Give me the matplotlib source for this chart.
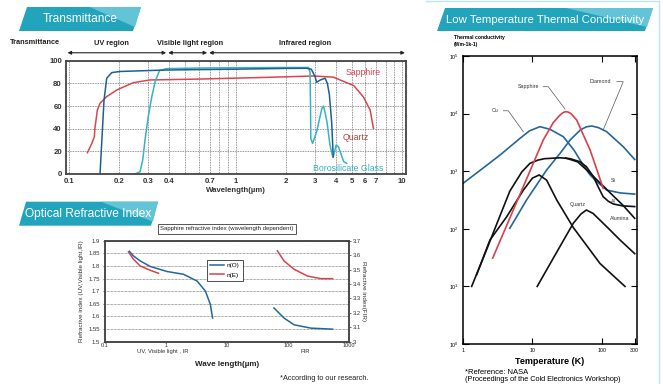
import matplotlib
matplotlib.use("Agg")
import matplotlib.pyplot as plt
from matplotlib.patches import Polygon
from matplotlib.lines import Line2D
from matplotlib.ticker import FixedLocator, NullLocator, NullFormatter, LogFormatterMathtext
import matplotlib.transforms as mtrans

plt.rcParams['font.family'] = ['Liberation Sans', 'DejaVu Sans']

# ---------------- transmittance data (wavelength um, %)
sapphire_wl = [0.129, 0.137, 0.142, 0.143, 0.148, 0.1535, 0.168, 0.193, 0.243, 0.306, 0.61, 1.54, 2.94, 3.86, 5.13, 5.86, 6.43, 6.73]
sapphire_t = [18.8, 27, 33, 40.3, 56.5, 62.4, 68.2, 74.1, 80.6, 83, 83.8, 85.3, 86.5, 85.5, 78, 68, 56.5, 40.3]

quartz_wl = [0.1535, 0.1622, 0.1684, 0.1805, 0.2024, 0.385, 0.97, 2.0, 2.68, 2.85, 3.0, 3.07, 3.23, 3.45, 3.56, 3.66, 3.78, 3.86]
quartz_t = [0, 65, 84.5, 89.5, 90.5, 91.8, 92.5, 93.2, 93.3, 92.5, 86, 81, 83, 84.5, 80, 70, 45, 15]

boro_wl = [0.249, 0.267, 0.277, 0.286, 0.299, 0.314, 0.329, 0.349, 0.385, 0.6, 1.0, 2.0, 2.74, 2.80, 2.82, 2.83, 2.90, 3.07, 3.30, 3.38, 3.54, 3.69, 3.81, 3.86, 4.02, 4.15, 4.46, 4.65]
boro_t = [0, 2, 12.4, 30, 50.6, 68.2, 81.5, 91.2, 93, 93.5, 93.8, 94, 94, 90, 61, 31.5, 27, 37.3, 58, 60, 46, 25.6, 16.8, 15, 25.6, 24, 10.9, 9.4]

wl_ticks = [0.1, 0.2, 0.3, 0.4, 0.7, 1, 2, 3, 4, 5, 6, 7, 10]
wl_labels = ['0.1', '0.2', '0.3', '0.4', '0.7', '1', '2', '3', '4', '5', '6', '7', '10']
regions = [('UV region', 0.098, 0.383), ('Visible light region', 0.394, 0.675), ('Infrared region', 0.694, 10.4)]

# ---------------- refractive index data (wavelength um)
no_uv_wl = [0.251, 0.292, 0.377, 0.551, 1.04, 1.94, 3.24, 4.44, 5.34, 5.8]
no_uv_n = [1.858, 1.84, 1.82, 1.798, 1.778, 1.767, 1.74, 1.70, 1.647, 1.594]
ne_uv_wl = [0.242, 0.292, 0.377, 0.551, 0.753]
ne_uv_n = [1.856, 1.827, 1.80, 1.783, 1.771]
no_fir_wl = [58.9, 86, 126, 237, 537]
no_fir_n = [3.234, 3.164, 3.117, 3.094, 3.087]
ne_fir_wl = [67, 86, 126, 209, 346, 537]
ne_fir_n = [3.63, 3.56, 3.502, 3.455, 3.437, 3.437]

# ---------------- thermal conductivity data (K, W/mK)
cu_T = [1, 2, 3.4, 6.6, 9, 12.8, 17.9, 27.9, 40, 54, 68, 85, 118, 184, 300]
cu_k = [620, 1170, 1910, 3720, 5000, 5930, 5340, 3970, 2300, 1280, 860, 660, 470, 420, 400]
diamond_T = [4.7, 8.2, 16, 25, 35, 49, 60, 72, 90, 118, 205, 300]
diamond_k = [102, 316, 1050, 2040, 3480, 5190, 5900, 6090, 5700, 4850, 2660, 1600]
sapph_T = [2.66, 6, 14.3, 20, 25, 28, 30.5, 33, 36, 43.5, 55, 68, 85, 105]
sapph_k = [31, 304, 3480, 7000, 9460, 10500, 10800, 10600, 10000, 7740, 4120, 2330, 1070, 505]
al_T = [1.32, 2, 3, 4.7, 7, 9.2, 12, 15, 25, 35, 48.6, 60, 76, 90, 105, 125, 147, 200, 300]
al_k = [10, 34, 116, 450, 970, 1370, 1560, 1650, 1710, 1650, 1460, 1200, 803, 520, 361, 300, 270, 250, 243]
si_T = [30, 45, 60.7, 100, 150, 200, 300]
si_k = [1700, 1450, 1050, 588, 364, 261, 152]
alumina_T = [1.56, 2.43, 4.24, 7.4, 10, 12.5, 16, 22.4, 38.9, 67.6, 94.5, 150, 217]
alumina_k = [16, 64, 162, 472, 760, 860, 700, 316, 105, 43, 25, 15, 10]
quartz2_T = [11.7, 20, 38.9, 50, 60, 75, 118, 184, 300]
quartz2_k = [10, 31, 125, 180, 212, 185, 109, 64, 37]

W, H = 663, 384
fig = plt.figure(figsize=(6.63, 3.84), dpi=100)


def box(l, t, r, b):
    return [l / W, 1 - b / H, (r - l) / W, (b - t) / H]


def fp(x, y):
    return (x / W, 1 - y / H)


def banner(x0, x1, top, bot, slant, text, tx, ty, fs):
    pts = [fp(x0, bot), fp(x0 + slant, top), fp(x1 + slant, top), fp(x1, bot)]
    fig.add_artist(Polygon(pts, closed=True, transform=fig.transFigure, fc='#22a4bd', ec='none'))
    lx = x0 + 0.62 * (x1 - x0)
    tri = [fp(lx, top), fp(x1 + slant, top), fp(x1 + 2, bot - 4)]
    fig.add_artist(Polygon(tri, closed=True, transform=fig.transFigure, fc='#62c4d6', ec='none'))
    fig.text(*fp(tx, ty), text, color='white', fontsize=fs, ha='center', va='center')


banner(19, 133, 7, 31, 8, 'Transmittance', 80, 19.5, 8.6)
banner(19, 151, 201.7, 225.7, 7, 'Optical Refractive Index', 88, 214, 8.6)
banner(437, 645, 8, 31, 8, 'Low Temperature Thermal Conductivity', 545, 20, 8.2)

fig.add_artist(Line2D([426 / W, 659 / W], [1 - 1 / H, 1 - 1 / H], transform=fig.transFigure, color='#bfe5ee', lw=1))
fig.add_artist(Line2D([659 / W, 659 / W], [1 - 1 / H, 0], transform=fig.transFigure, color='#bfe5ee', lw=1))

# ================= Transmittance
ax1 = fig.add_axes(box(66, 60.7, 405.6, 174))
ax1.set_xscale('log')
ax1.set_xlim(0.0959, 10.5)
ax1.set_ylim(0, 100)
ax1.plot(sapphire_wl, sapphire_t, color='#d9464f', lw=1.1)
ax1.plot(boro_wl, boro_t, color='#35b3c2', lw=1.1)
ax1.plot(quartz_wl, quartz_t, color='#1f5e91', lw=1.1)
ax1.xaxis.set_major_locator(FixedLocator(wl_ticks))
ax1.xaxis.set_minor_locator(FixedLocator([0.5, 0.6, 0.8, 0.9, 8, 9]))
ax1.set_xticklabels(wl_labels)
ax1.xaxis.set_minor_formatter(NullFormatter())
ax1.set_yticks([0, 20, 40, 60, 80, 100])
ax1.grid(which='both', color='#555555', ls=(0, (1.2, 1.2)), lw=0.5)
ax1.tick_params(which='both', length=0, labelsize=5.6, colors='#333333', pad=3)
for lab in ax1.get_xticklabels() + ax1.get_yticklabels():
    lab.set_fontweight('bold')
for s in ax1.spines.values():
    s.set_color('#444444')
    s.set_linewidth(1.3)
ax1.set_xlabel('Wavelength(\u00b5m)', fontsize=5.6, fontweight='bold', color='#333333', labelpad=1)
ax1.text(5.86, 89.4, 'Sapphire', color='#d9464f', fontsize=6.3, ha='center', va='center')
ax1.text(5.29, 32, 'Quartz', color='#a9443d', fontsize=6.3, ha='center', va='center')
ax1.text(4.72, 5, 'Borosilicate Glass', color='#35b3c2', fontsize=6.3, ha='center', va='center')

tr = mtrans.blended_transform_factory(ax1.transData, ax1.transAxes)
for name, a, b in regions:
    ax1.annotate('', xy=(a, 1.07), xytext=(b, 1.07), xycoords=tr, textcoords=tr,
                 arrowprops=dict(arrowstyle='<|-|>', color='#222222', lw=0.8, mutation_scale=5,
                                 shrinkA=0, shrinkB=0), annotation_clip=False)
ax1.text(0.18, 1.156, 'UV region', transform=tr, fontsize=5.3, ha='center', va='center', color='#222222', fontweight='bold')
ax1.text(0.53, 1.156, 'Visible light region', transform=tr, fontsize=5.3, ha='center', va='center', color='#222222', fontweight='bold')
ax1.text(2.6, 1.156, 'Infrared region', transform=tr, fontsize=5.3, ha='center', va='center', color='#222222', fontweight='bold')
fig.text(*fp(35, 43), 'Transmittance', fontsize=5.3, ha='center', va='center', color='#222222', fontweight='bold')

# ================= Refractive index
ax2 = fig.add_axes(box(105, 240.7, 349, 341.7))
ax2.set_xscale('log')
ax2.set_xlim(0.1, 1000)
ax2.set_ylim(1.5, 1.9)
ax2.set_yticks([1.5, 1.55, 1.6, 1.65, 1.7, 1.75, 1.8, 1.85, 1.9])
ax2.set_yticklabels(['1.5', '1.55', '1.6', '1.65', '1.7', '1.75', '1.8', '1.85', '1.9'])
ax2.xaxis.set_major_locator(FixedLocator([0.1, 1, 10, 100, 1000]))
ax2.set_xticklabels(['0.1', '1', '10', '100', '1000'])
ax2.xaxis.set_minor_locator(NullLocator())
ax2.grid(axis='y', color='#555555', ls=(0, (1, 1)), lw=0.5)
ax2.tick_params(axis='y', length=1.5, width=0.5, labelsize=4.2, colors='#333333', pad=2)
ax2.tick_params(axis='x', length=0, labelsize=4.0, colors='#333333', pad=1.2)
l1, = ax2.plot(no_uv_wl, no_uv_n, color='#22679a', lw=1.1, label='n(O)')
l2, = ax2.plot(ne_uv_wl, ne_uv_n, color='#d8414c', lw=1.1, label='n(E)')
ax2b = ax2.twinx()
ax2b.set_ylim(3.0, 3.7)
ax2b.set_yticks([3.0, 3.1, 3.2, 3.3, 3.4, 3.5, 3.6, 3.7])
ax2b.set_yticklabels(['3', '3.1', '3.2', '3.3', '3.4', '3.5', '3.6', '3.7'])
ax2b.tick_params(length=1.5, width=0.5, labelsize=4.2, colors='#333333', pad=1.5)
ax2b.plot(no_fir_wl, no_fir_n, color='#22679a', lw=1.1)
ax2b.plot(ne_fir_wl, ne_fir_n, color='#d8414c', lw=1.1)
for a in (ax2, ax2b):
    for s in a.spines.values():
        s.set_color('#444444')
        s.set_linewidth(1.1)
leg = ax2b.legend([l1, l2], ['n(O)', 'n(E)'], loc='upper left', bbox_to_anchor=(0.405, 0.845),
                  fontsize=4.6, handlelength=2.2, fancybox=False, edgecolor='#333333',
                  borderpad=0.5, labelspacing=0.6, handletextpad=0.4, framealpha=1)
leg.get_frame().set_linewidth(0.6)
ax2.text(0.5, 1.116, 'Sapphire refractive index (wavelength dependent)', transform=ax2.transAxes,
         fontsize=4.3, ha='center', va='center', color='#222222',
         bbox=dict(boxstyle='square,pad=0.35', fc='white', ec='#555555', lw=0.7))
ax2.set_ylabel('Refractive index (UV,Visible light,IR)', fontsize=4.6, color='#333333', labelpad=3)
ax2b.set_ylabel('Refractive index(FIR)', fontsize=4.6, color='#333333', rotation=270, labelpad=3)
fig.text(*fp(163, 351.5), 'UV, Visible light , IR', fontsize=4.2, ha='center', va='center', color='#333333')
fig.text(*fp(305, 351.5), 'FIR', fontsize=4.2, ha='center', va='center', color='#333333')
fig.text(*fp(227, 364), 'Wave length(\u00b5m)', fontsize=5.8, fontweight='bold', ha='center', va='center', color='#222222')
fig.text(*fp(280, 378), '*According to our research.', fontsize=5.3, ha='left', va='center', color='#222222')

# ================= Thermal conductivity
ax3 = fig.add_axes(box(463.3, 56, 637.3, 344))
ax3.set_xscale('log')
ax3.set_yscale('log')
ax3.set_xlim(1, 327)
ax3.set_ylim(1, 1e5)
ax3.plot(cu_T, cu_k, color='#23679a', lw=1.2)
ax3.plot(diamond_T, diamond_k, color='#23679a', lw=1.2)
ax3.plot(al_T, al_k, color='#111111', lw=1.2)
ax3.plot(si_T, si_k, color='#111111', lw=1.2)
ax3.plot(alumina_T, alumina_k, color='#111111', lw=1.2)
ax3.plot(quartz2_T, quartz2_k, color='#111111', lw=1.2)
ax3.plot(sapph_T, sapph_k, color='#d8414c', lw=1.2)
ax3.xaxis.set_major_locator(FixedLocator([1, 10, 100, 300]))
ax3.set_xticklabels(['1', '10', '100', '300'])
ax3.xaxis.set_minor_locator(NullLocator())
ax3.yaxis.set_major_locator(FixedLocator([1, 10, 100, 1e3, 1e4, 1e5]))
ax3.yaxis.set_major_formatter(LogFormatterMathtext())
ax3.yaxis.set_minor_locator(NullLocator())
ax3.tick_params(direction='in', top=True, right=True, length=4, width=0.8, labelsize=3.8, pad=3)
for s in ax3.spines.values():
    s.set_linewidth(1.1)

lead = dict(color='#555555', lw=0.5)
ax3.plot([3.79, 4.47, 7.37], [11200, 11200, 4850], **lead)
ax3.plot([14.3, 16.9, 29.5], [29300, 29300, 12000], **lead)
ax3.plot([165, 205, 105], [35800, 35800, 5190], **lead)
lab = dict(fontsize=3.8, color='#333333', va='center')
ax3.text(2.87, 11200, 'Cu', ha='center', **lab)
ax3.text(8.7, 29300, 'Sapphire', ha='center', **lab)
ax3.text(94.5, 35800, 'Diamond', ha='center', **lab)
ax3.text(136, 703, 'Si', ha='left', **lab)
ax3.text(136, 296, 'Al', ha='left', **lab)
ax3.text(45.9, 259, 'Quartz', ha='center', **lab)
ax3.text(184, 152, 'Alumina', ha='center', **lab)

fig.text(*fp(454, 38), 'Thermal conductivity', fontsize=3.6, fontweight='bold', ha='left', va='center')
fig.text(*fp(454, 44.5), '(Wm-1k-1)', fontsize=3.6, fontweight='bold', ha='left', va='center')
fig.text(*fp(550, 361), 'Temperature (K)', fontsize=6.5, fontweight='bold', ha='center', va='center')
fig.text(*fp(465, 372), '*Reference: NASA', fontsize=5.5, ha='left', va='center')
fig.text(*fp(465, 379.5), '(Proceedings of the Cold Electronics Workshop)', fontsize=5.3, ha='left', va='center')

fig.savefig('out.png', dpi=100)
